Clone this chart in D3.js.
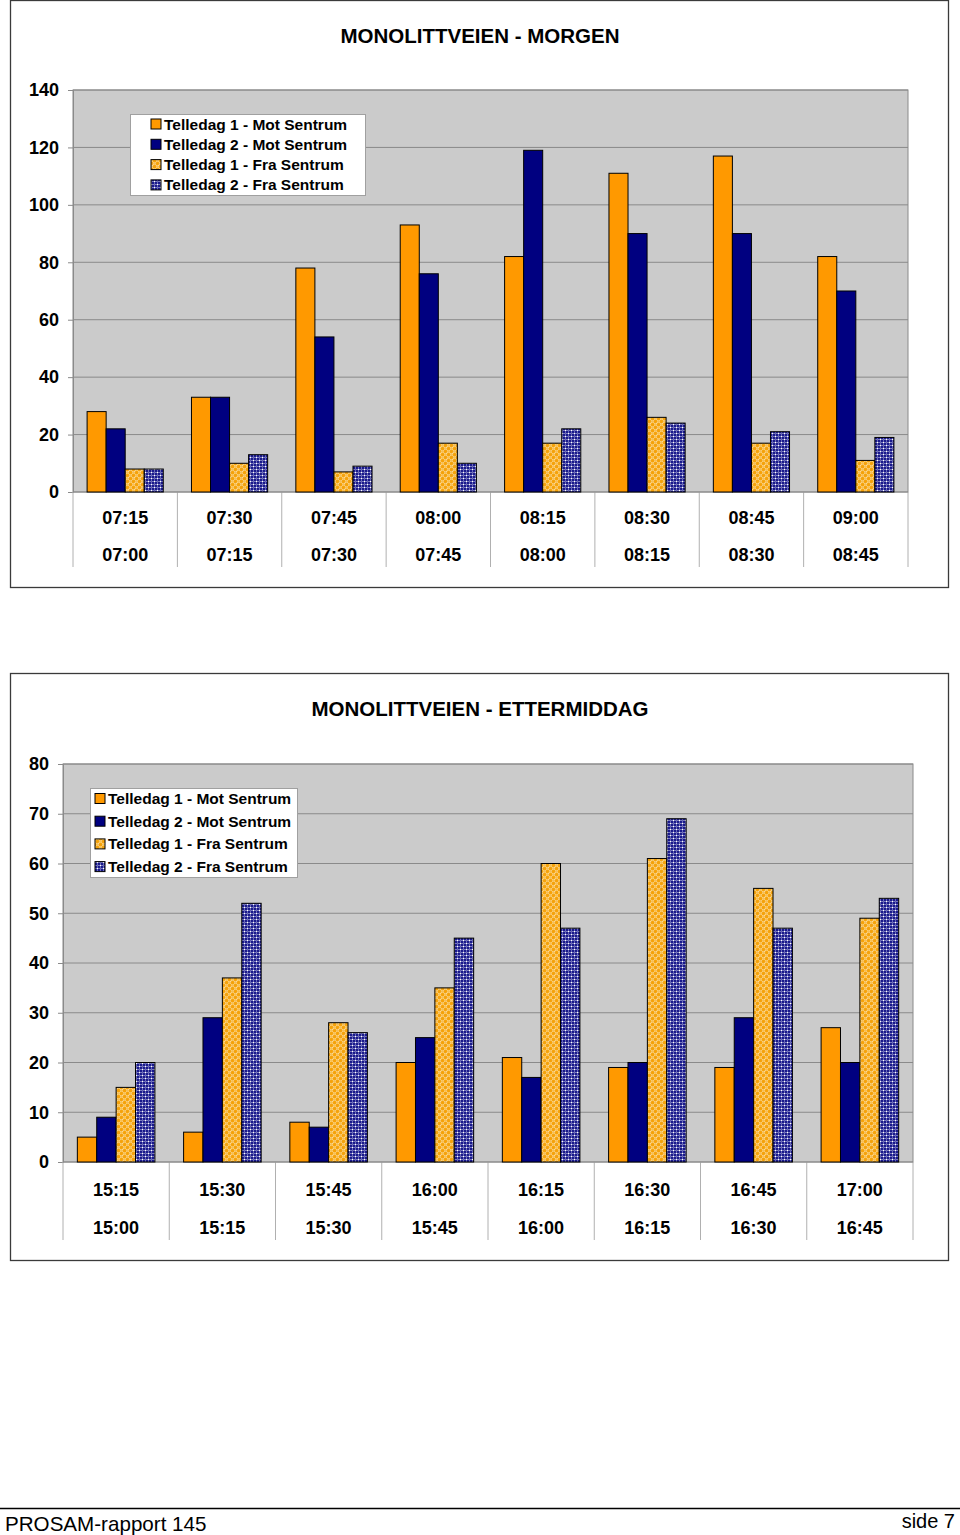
<!DOCTYPE html>
<html><head><meta charset="utf-8">
<script src="https://cdn.jsdelivr.net/npm/d3@7/dist/d3.min.js"></script>
<style>
html,body{margin:0;padding:0;background:#fff;}
svg{display:block;font-family:"Liberation Sans",Arial,sans-serif;}
</style></head>
<body>
<svg id="c" width="960" height="1535"></svg>
<script>
// ---- DATA ----
const seriesNames = ["Telledag 1 - Mot Sentrum","Telledag 2 - Mot Sentrum","Telledag 1 - Fra Sentrum","Telledag 2 - Fra Sentrum"];

const morningTitle = "MONOLITTVEIEN - MORGEN";
const morningTo   = ["07:15","07:30","07:45","08:00","08:15","08:30","08:45","09:00"];
const morningFrom = ["07:00","07:15","07:30","07:45","08:00","08:15","08:30","08:45"];
const morningT1Mot = [28,33,78,93,82,111,117,82];
const morningT2Mot = [22,33,54,76,119,90,90,70];
const morningT1Fra = [8,10,7,17,17,26,17,11];
const morningT2Fra = [8,13,9,10,22,24,21,19];
const morningTicks = [0,20,40,60,80,100,120,140];

const eveningTitle = "MONOLITTVEIEN - ETTERMIDDAG";
const eveningTo   = ["15:15","15:30","15:45","16:00","16:15","16:30","16:45","17:00"];
const eveningFrom = ["15:00","15:15","15:30","15:45","16:00","16:15","16:30","16:45"];
const eveningT1Mot = [5,6,8,20,21,19,19,27];
const eveningT2Mot = [9,29,7,25,17,20,29,20];
const eveningT1Fra = [15,37,28,35,60,61,55,49];
const eveningT2Fra = [20,52,26,45,47,69,47,53];
const eveningTicks = [0,10,20,30,40,50,60,70,80];

const footerLeft = "PROSAM-rapport 145";
const footerRight = "side 7";

// ---- DRAW ----
const svg = d3.select("#c");
const defs = svg.append("defs");
(function(){
  const p = defs.append("pattern").attr("id","pOrange").attr("patternUnits","userSpaceOnUse").attr("width",6).attr("height",6);
  p.append("rect").attr("width",6).attr("height",6).attr("fill","#fff4dc");
  [[1.5,1.5],[4.5,4.5]].forEach(([x,y])=>p.append("circle").attr("cx",x).attr("cy",y).attr("r",1.8).attr("fill","#f5a20a"));
  [[4.5,1.5],[1.5,4.5]].forEach(([x,y])=>p.append("circle").attr("cx",x).attr("cy",y).attr("r",1.6).attr("fill","#f8c055"));
})();
(function(){
  const p = defs.append("pattern").attr("id","pNavy").attr("patternUnits","userSpaceOnUse").attr("width",6).attr("height",6);
  p.append("rect").attr("width",6).attr("height",6).attr("fill","#000080");
  [[1.5,1.5],[4.5,1.5],[1.5,4.5],[4.5,4.5]].forEach(([x,y])=>p.append("circle").attr("cx",x).attr("cy",y).attr("r",1.05).attr("fill","#ffffff"));
  [[1.5,1.5],[4.5,4.5]].forEach(([x,y])=>p.append("circle").attr("cx",x).attr("cy",y).attr("r",0.5).attr("fill","#3030a0"));
})();
const fills = ["#FF9900","#000080","url(#pOrange)","url(#pNavy)"];

function drawChart(cfg){
  const g = svg.append("g");
  g.append("rect").attr("x",cfg.fx+0.5).attr("y",cfg.fy+0.5).attr("width",cfg.fw).attr("height",cfg.fh)
    .attr("fill","#fff").attr("stroke","#3a3a3a").attr("stroke-width",1.3);
  g.append("text").attr("x",480).attr("y",cfg.titleY).attr("text-anchor","middle").attr("dominant-baseline","central")
    .attr("font-size",20.5).attr("font-weight","bold").text(cfg.title);

  const x = d3.scaleBand().domain(d3.range(cfg.to.length)).range([cfg.x0,cfg.x1]);
  const y = d3.scaleLinear().domain([0,d3.max(cfg.ticks)]).range([cfg.y1,cfg.y0]);
  g.append("rect").attr("x",cfg.x0).attr("y",cfg.y0).attr("width",cfg.x1-cfg.x0).attr("height",cfg.y1-cfg.y0)
    .attr("fill","#cbcbcb").attr("stroke","#8a8a8a").attr("stroke-width",1);
  g.append("g").selectAll("line").data(cfg.ticks.slice(1)).join("line")
    .attr("x1",cfg.x0).attr("x2",cfg.x1).attr("y1",d=>y(d)).attr("y2",d=>y(d))
    .attr("stroke","#8a8a8a").attr("stroke-width",1);
  const ya = g.append("g").attr("transform",`translate(${cfg.x0},0)`)
    .call(d3.axisLeft(y).tickValues(cfg.ticks).tickSize(5).tickPadding(9));
  ya.select(".domain").attr("stroke","#8a8a8a");
  ya.selectAll(".tick line").attr("stroke","#8a8a8a");
  ya.selectAll("text").attr("font-size",18).attr("font-weight","bold").attr("fill","#000")
    .attr("font-family","Liberation Sans, Arial, sans-serif");
  const bounds = d3.range(cfg.to.length+1).map(i=>cfg.x0+i*x.step());
  g.append("g").selectAll("line").data(bounds).join("line")
    .attr("x1",d=>d).attr("x2",d=>d).attr("y1",cfg.y1).attr("y2",cfg.divEnd)
    .attr("stroke","#b0b0b0").attr("stroke-width",1);
  g.append("line").attr("x1",cfg.x0).attr("x2",cfg.x1).attr("y1",cfg.y1).attr("y2",cfg.y1).attr("stroke","#8a8a8a");
  g.append("g").selectAll("text").data(cfg.to).join("text")
    .attr("x",(d,i)=>x(i)+x.bandwidth()/2).attr("y",cfg.row1).attr("text-anchor","middle")
    .attr("dominant-baseline","central").attr("font-size",18).attr("font-weight","bold").text(d=>d);
  g.append("g").selectAll("text").data(cfg.from).join("text")
    .attr("x",(d,i)=>x(i)+x.bandwidth()/2).attr("y",cfg.row2).attr("text-anchor","middle")
    .attr("dominant-baseline","central").attr("font-size",18).attr("font-weight","bold").text(d=>d);
  const inner = d3.scaleBand().domain(d3.range(4)).range([0,x.bandwidth()]).paddingOuter(0.74);
  cfg.series.forEach((vals,s)=>{
    g.append("g").selectAll("rect").data(vals).join("rect")
      .attr("x",(d,i)=>x(i)+inner(s)).attr("width",inner.bandwidth())
      .attr("y",d=>y(d)).attr("height",d=>y(0)-y(d))
      .attr("fill",fills[s]).attr("stroke","#000").attr("stroke-width",1);
  });
  const L = cfg.legend;
  g.append("rect").attr("x",L.x+0.5).attr("y",L.y+0.5).attr("width",L.w).attr("height",L.h)
    .attr("fill","#fff").attr("stroke","#a0a0a0");
  seriesNames.forEach((n,i)=>{
    const cy = L.y + L.first + i*L.step;
    g.append("rect").attr("x",L.sx).attr("y",cy-5).attr("width",10).attr("height",10)
      .attr("fill",fills[i]).attr("stroke","#000").attr("stroke-width",1);
    g.append("text").attr("x",L.sx+13).attr("y",cy).attr("dominant-baseline","central")
      .attr("font-size",L.fs).attr("font-weight","bold").text(n);
  });
}

drawChart({title:morningTitle,to:morningTo,from:morningFrom,ticks:morningTicks,
  series:[morningT1Mot,morningT2Mot,morningT1Fra,morningT2Fra],
  fx:10,fy:0,fw:938,fh:587,titleY:35,x0:73,x1:908,y0:90,y1:492,divEnd:567,row1:518,row2:555,
  legend:{x:130,y:114,w:235,h:81,sx:151,first:10,step:20.3,fs:15.5}});

drawChart({title:eveningTitle,to:eveningTo,from:eveningFrom,ticks:eveningTicks,
  series:[eveningT1Mot,eveningT2Mot,eveningT1Fra,eveningT2Fra],
  fx:10,fy:673,fw:938,fh:587,titleY:708,x0:63,x1:913,y0:764,y1:1162,divEnd:1240,row1:1190,row2:1228,
  legend:{x:90,y:788,w:207,h:89,sx:95,first:10.5,step:22.7,fs:15.5}});

svg.append("line").attr("x1",0).attr("x2",960).attr("y1",1508.5).attr("y2",1508.5).attr("stroke","#000").attr("stroke-width",1.5);
svg.append("text").attr("x",5).attr("y",1531).attr("font-size",20.6).text(footerLeft);
svg.append("text").attr("x",955).attr("y",1528).attr("text-anchor","end").attr("font-size",20).text(footerRight);
</script>
</body></html>
